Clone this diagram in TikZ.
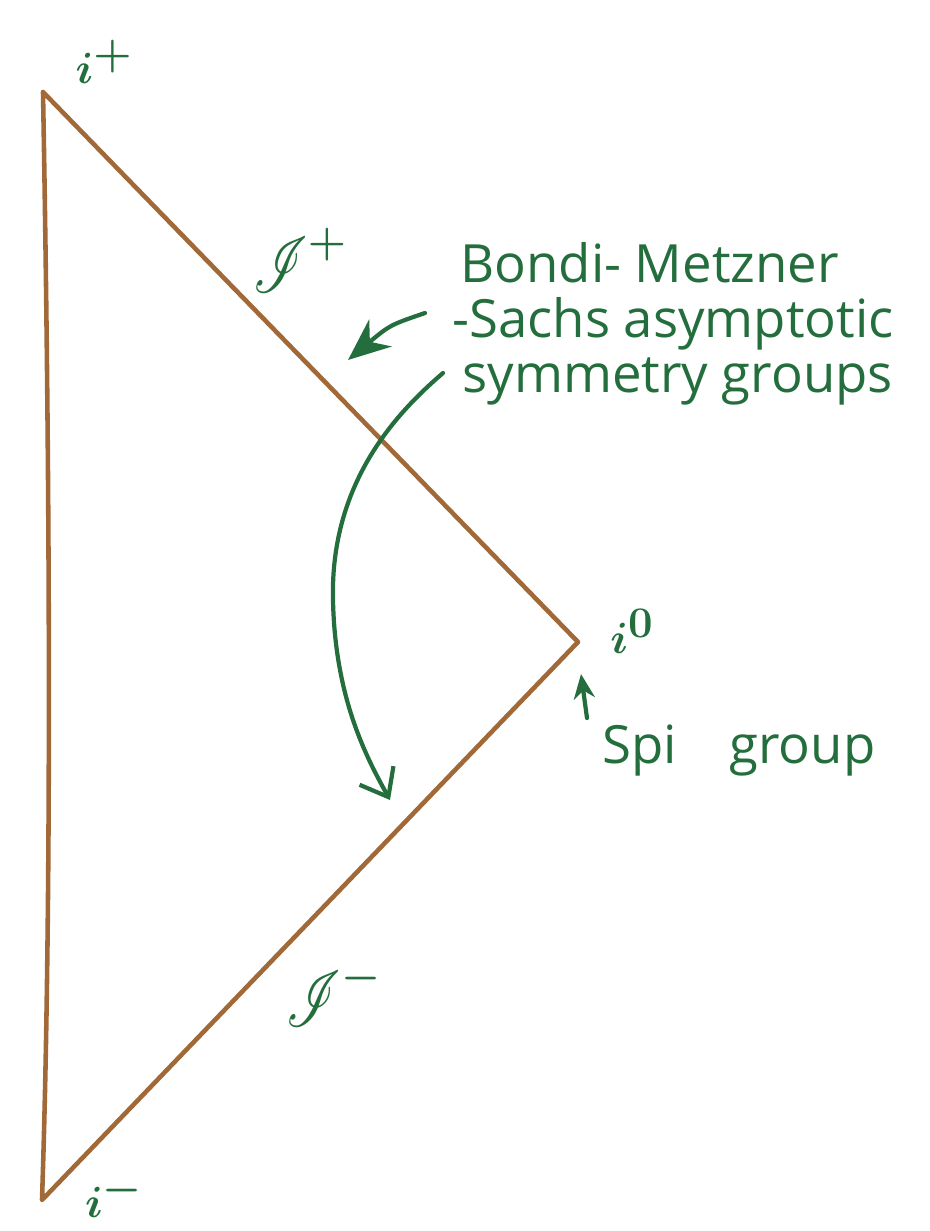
\documentclass[tikz,border=0pt]{standalone}
\usepackage{fontspec}
\setmainfont{Open Sans}
\usepackage{mathrsfs}
\usetikzlibrary{arrows.meta,positioning}
\definecolor{PenroseBrown}{RGB}{160,105,55}
\definecolor{InkGreen}{RGB}{35,110,60}

\newcommand{\bigscri}{\scalebox{1.25}[1.8]{$\mathscr{I}$}}

\tikzset{
    boundary/.style={PenroseBrown, line width=2.6pt, line join=round, line cap=round},
    pointer/.style={InkGreen, line width=2.4pt, line cap=round},
    note/.style={text=InkGreen, font=\fontsize{30}{34}\selectfont, inner sep=0pt},
    corner/.style={text=InkGreen, font=\fontsize{34}{40}\selectfont\boldmath, inner sep=0pt, anchor=base}
    }

\begin{document}
\begin{tikzpicture}[x=0.02cm, y=-0.02cm]

    \useasboundingbox (0,0) rectangle (930,1231);

    %Corners of the diagram
    \coordinate (iplus) at (43,92);
    \coordinate (izero) at (578,642);
    \coordinate (iminus) at (42,1200);

    %Boundary
    \draw[boundary] (iplus) -- (izero) -- (iminus) .. controls (52,900) and (50,480) .. (iplus);

    %Labels at the corners and null infinities
    \node[corner] (iplusL) at (104,83) {$i^+$};
    \node[corner] (izeroL) at (632,653) {$i^0$};
    \node[corner] (iminusL) at (114,1217) {$i^-$};
    \node[corner] (scriP) at (300,292) {\bigscri$^{\raisebox{12pt}{$\scriptstyle+$}}$};
    \node[corner] (scriM) at (334,1026) {\bigscri$^{\raisebox{12pt}{$\scriptstyle-$}}$};

    %Bondi-Metzner-Sachs
    \node[note, anchor=base west] (bmsA) at (460,282) {Bondi- Metzner};
    \node[note, anchor=base west] (bmsB) at (452,337) {-Sachs asymptotic};
    \node[note, anchor=base west] (bmsC) at (462,392) {symmetry groups};
    \coordinate (bmsFrom) at (425,313);
    \coordinate (bmsTo) at (348,360);
    \coordinate (bmsCurve) at (443,373);
    \coordinate (bmsDown) at (390,800);
    \draw[pointer, -{Stealth[length=24pt, width=20pt]}] (bmsFrom) .. controls (390,325) .. (bmsTo);
    \draw[pointer, -{Straight Barb[length=14pt, width=22pt]}] (bmsCurve) .. controls (400,410) and (330,480) .. (333,600) .. controls (335,700) and (368,760) .. (bmsDown);

    %Spi
    \node[note, anchor=base west] (spi) at (602,763) {Spi\quad group};
    \coordinate (spiFrom) at (587,718);
    \coordinate (spiTo) at (581,674);
    \draw[pointer, -{Stealth[length=14pt, width=12pt]}] (spiFrom) -- (spiTo);

\end{tikzpicture}
\end{document}
